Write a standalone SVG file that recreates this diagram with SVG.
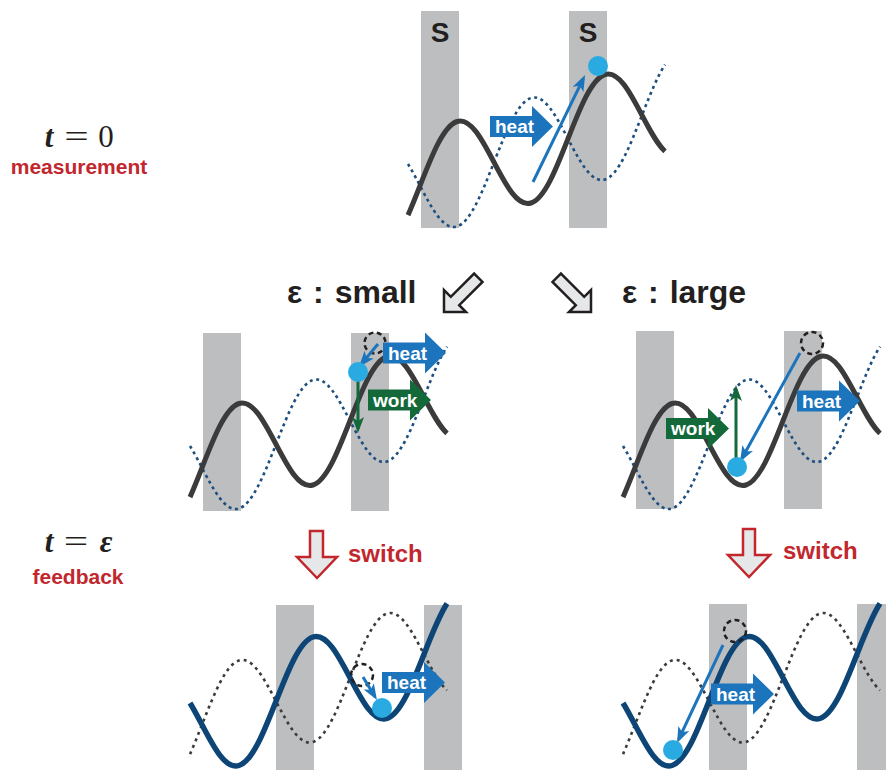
<svg xmlns="http://www.w3.org/2000/svg" xmlns:xlink="http://www.w3.org/1999/xlink" width="886" height="770" viewBox="0 0 886 770">
<style>
.bar{fill:#bcbec0}
.solG{fill:none;stroke:#3b3b3b;stroke-width:5}
.dotB{fill:none;stroke:#1d4e7e;stroke-width:2.6;stroke-dasharray:3 3.6}
.solN{fill:none;stroke:#0d4676;stroke-width:5.5}
.dotG{fill:none;stroke:#3b3b3b;stroke-width:2.6;stroke-dasharray:3 4}
.ball{fill:#29abe2}
.ghost{fill:none;stroke:#231f20;stroke-width:2.5;stroke-dasharray:5 3.5}
.bl{stroke:#1c75bc;stroke-width:3;fill:none;marker-end:url(#mb)}
.gr{stroke:#13693a;stroke-width:3;fill:none;marker-end:url(#mg)}
.heat{fill:#1c75bc}
.work{fill:#13693a}
.lbl{font-family:"Liberation Sans",Arial,sans-serif;font-weight:bold;font-size:19px;fill:#fff}
.S{font-family:"Liberation Sans",Arial,sans-serif;font-weight:bold;font-size:28px;fill:#231f20;text-anchor:middle}
.eps{font-family:"Liberation Sans",Arial,sans-serif;font-weight:bold;font-size:32px;word-spacing:2px;fill:#231f20}
.red{font-family:"Liberation Sans",Arial,sans-serif;font-weight:bold;fill:#c1272d}
.math{font-family:"Liberation Serif","Times New Roman",serif;font-size:31px;fill:#231f20;text-anchor:middle}
.it{font-style:italic;font-weight:bold}
.hollow{fill:#e6e7e8;stroke:#231f20;stroke-width:2.5;stroke-linejoin:miter}
.sw{fill:#e6e7e8;stroke:#c1272d;stroke-width:2.5;stroke-linejoin:miter}
</style>
<defs>
<path id="sol" vector-effect="non-scaling-stroke" d="M408.02,199.57 C412.01,191.79 415.98,182.97 420,174 C432.07,147.1 443.61,121.5 457,121.5 C470.39,121.5 481.93,147.1 494,174 C506.07,200.9 517.61,226.5 531,226.5 C544.39,226.5 555.93,200.9 568,174 C580.07,147.1 591.61,121.5 605,121.5 C618.39,121.5 629.93,147.1 642,174 C649.68,191.11 657.14,207.69 665,217.33"/>
<path id="dot" vector-effect="non-scaling-stroke" d="M408.02,148.43 C412.01,156.21 415.98,165.03 420,174 C432.07,200.9 443.61,226.5 457,226.5 C470.39,226.5 481.93,200.9 494,174 C506.07,147.1 517.61,121.5 531,121.5 C544.39,121.5 555.93,147.1 568,174 C580.07,200.9 591.61,226.5 605,226.5 C618.39,226.5 629.93,200.9 642,174 C649.68,156.89 657.14,140.31 665,130.67"/>
<path id="blk" d="M0,-10.5 H42 V-20.5 L63,0 L42,20.5 V10.5 H0 Z"/>
<marker id="mb" markerUnits="userSpaceOnUse" markerWidth="16" markerHeight="12" refX="12" refY="6" orient="auto" viewBox="0 0 16 12"><path d="M0,0 L16,6 L0,12 L4,6 Z" fill="#1c75bc"/></marker>
<marker id="mg" markerUnits="userSpaceOnUse" markerWidth="16" markerHeight="12" refX="12" refY="6" orient="auto" viewBox="0 0 16 12"><path d="M0,0 L16,6 L0,12 L4,6 Z" fill="#13693a"/></marker>
</defs>
<rect width="886" height="770" fill="#fff"/>

<g id="label-t0">
<text class="math it" x="49" y="147">t</text>
<text class="math" transform="translate(76.5,147) scale(1.4,1)">=</text>
<text class="math" x="106" y="147">0</text>
<text class="red" x="79" y="174" font-size="21" text-anchor="middle">measurement</text>
</g>

<g id="label-teps">
<text class="math it" x="49" y="552">t</text>
<text class="math" transform="translate(76,552) scale(1.4,1)">=</text>
<text class="math it" x="106" y="552">ε</text>
<text class="red" x="78" y="584" font-size="21" text-anchor="middle">feedback</text>
</g>

<g id="panel-t0">
<rect class="bar" x="421" y="11" width="38" height="217"/>
<rect class="bar" x="569" y="11" width="38" height="217"/>
<text class="S" x="440" y="41.5">S</text>
<text class="S" x="588" y="41.5">S</text>
<g transform="matrix(1,-0.31757,0,1,0,145.13)">
<use href="#dot" class="dotB"/>
<use href="#sol" class="solG"/>
</g>
<use href="#blk" class="heat" x="490" y="126.5"/>
<text class="lbl" x="495" y="133">heat</text>
<line class="bl" x1="533" y1="182" x2="583.3" y2="78.6"/>
<circle class="ball" cx="598" cy="66" r="10"/>
</g>

<g id="panel-small">
<rect class="bar" x="203" y="333" width="38" height="178"/>
<rect class="bar" x="351" y="333" width="38" height="178"/>
<g transform="translate(-218,282)"><g transform="matrix(1,-0.31757,0,1,0,145.13)">
<use href="#dot" class="dotB"/>
<use href="#sol" class="solG"/>
</g></g>
<circle class="ghost" cx="375" cy="343" r="10.5"/>
<line class="gr" x1="358" y1="377" x2="358" y2="429"/>
<line class="bl" x1="378" y1="344" x2="361.5" y2="363.9"/>
<circle class="ball" cx="358" cy="372" r="10"/>
<use href="#blk" class="heat" x="383" y="353"/>
<text class="lbl" x="388" y="359.5">heat</text>
<use href="#blk" class="work" x="368" y="400"/>
<text class="lbl" x="373" y="406.5">work</text>
</g>

<g id="panel-large">
<rect class="bar" x="636" y="331" width="38" height="178"/>
<rect class="bar" x="784" y="331" width="38" height="178"/>
<g transform="translate(215,282)"><g transform="matrix(1,-0.31757,0,1,0,145.13)">
<use href="#dot" class="dotB"/>
<use href="#sol" class="solG"/>
</g></g>
<circle class="ghost" cx="812" cy="343" r="11"/>
<use href="#blk" class="work" x="666" y="428.5"/>
<text class="lbl" x="671" y="435">work</text>
<use href="#blk" class="heat" x="797" y="401"/>
<text class="lbl" x="802" y="407.5">heat</text>
<line class="gr" x1="736" y1="458" x2="736" y2="389"/>
<line class="bl" x1="800" y1="353" x2="741.9" y2="458.5"/>
<circle class="ball" cx="737" cy="467" r="10"/>
</g>

<g id="panel-small-fb">
<rect class="bar" x="276" y="605" width="38" height="165"/>
<rect class="bar" x="424" y="605" width="38" height="165"/>
<g transform="translate(-218,539)"><g transform="matrix(1,-0.31757,0,1,0,145.13)">
<use href="#sol" class="dotG"/>
<use href="#dot" class="solN"/>
</g></g>
<circle class="ghost" cx="362" cy="675" r="11"/>
<line class="bl" x1="363" y1="677" x2="374.9" y2="696.6"/>
<circle class="ball" cx="382" cy="708" r="10"/>
<use href="#blk" class="heat" x="382" y="682.5"/>
<text class="lbl" x="387" y="689">heat</text>
</g>

<g id="panel-large-fb">
<rect class="bar" x="709" y="604" width="38" height="166"/>
<rect class="bar" x="857" y="604" width="38" height="166"/>
<g transform="translate(215,539)"><g transform="matrix(1,-0.31757,0,1,0,145.13)">
<use href="#sol" class="dotG"/>
<use href="#dot" class="solN"/>
</g></g>
<circle class="ghost" cx="735" cy="631" r="11"/>
<line class="bl" x1="723" y1="645" x2="678.7" y2="739.4"/>
<circle class="ball" cx="673" cy="750" r="10"/>
<use href="#blk" class="heat" x="711" y="694"/>
<text class="lbl" x="716" y="700.5">heat</text>
</g>

<g id="connectors">
<g id="branch-small">
<polygon class="hollow" points="444,312 444,290 450.8,296.8 474.1,273.5 482.5,281.9 459.2,305.2 466,312"/>
<text class="eps" x="287" y="303">ε : small</text>
</g>
<g id="branch-large">
<polygon class="hollow" points="591,312 591,290 584.2,296.8 560.9,273.5 552.5,281.9 575.8,305.2 569,312"/>
<text class="eps" x="622" y="303">ε : large</text>
</g>
<g id="switch-left">
<polygon class="sw" points="310,531 323,531 323,557 337,557 317,578 297,557 310,557"/>
<text class="red" x="348" y="562" font-size="24">switch</text>
</g>
<g id="switch-right">
<polygon class="sw" points="743,529 755,529 755,555 770,555 749,577 728,555 743,555"/>
<text class="red" x="783" y="559" font-size="24">switch</text>
</g>
</g>
</svg>
